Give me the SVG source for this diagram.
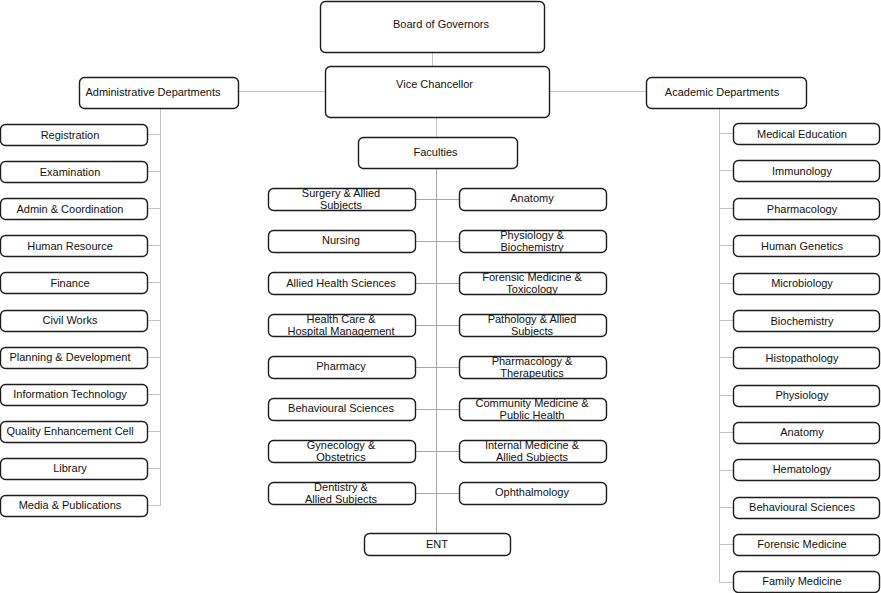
<svg xmlns="http://www.w3.org/2000/svg" width="881" height="593" viewBox="0 0 881 593">
<style>
.b{fill:#fff;stroke:#1c1c1c;stroke-width:1.4}
.t{font-family:"Liberation Sans",Arial,sans-serif;font-size:11px;fill:#111;text-anchor:middle}
.c{stroke:#c4c4c4;stroke-width:1;fill:none}
.ct{stroke:#a8a8a8;stroke-width:1;fill:none}
</style>
<rect width="881" height="593" fill="#fff"/>
<g id="connectors">
<path class="c" d="M432.5 53V66M436.5 117V137M238 91.5H325M549 91.5H646"/>
<path class="c" d="M160.5 108V506M147 134.5H160.5M147 171.5H160.5M147 208.5H160.5M147 245.5H160.5M147 282.5H160.5M147 320.5H160.5M147 357.5H160.5M147 394.5H160.5M147 431.5H160.5M147 468.5H160.5M147 505.5H160.5"/>
<path class="c" d="M719.5 108V583M719.5 133.5H733M719.5 170.5H733M719.5 208.5H733M719.5 245.5H733M719.5 283.5H733M719.5 320.5H733M719.5 357.5H733M719.5 395.5H733M719.5 432.5H733M719.5 470.5H733M719.5 507.5H733M719.5 544.5H733M719.5 582.5H733"/>
<path class="ct" d="M436.5 168V533M415 199.5H459M415 241.5H459M415 283.5H459M415 325.5H459M415 367.5H459M415 409.5H459M415 451.5H459M415 493.5H459"/>
</g>
<g id="board"><rect class="b" x="320.5" y="1.5" width="224" height="51" rx="5"/><text class="t" x="441" y="28">Board of Governors</text></g>
<g id="vc"><rect class="b" x="325.5" y="66.5" width="224" height="51" rx="5"/><text class="t" x="434.5" y="88">Vice Chancellor</text></g>
<g id="admin"><rect class="b" x="79.5" y="77.5" width="159" height="31" rx="5"/><text class="t" x="153" y="96">Administrative Departments</text></g>
<g id="academic"><rect class="b" x="646.5" y="77.5" width="160" height="31" rx="5"/><text class="t" x="722" y="96">Academic Departments</text></g>
<g id="faculties"><rect class="b" x="358.5" y="137.5" width="159" height="31" rx="5"/><text class="t" x="435.5" y="156">Faculties</text></g>

<g id="adm-registration"><rect class="b" x="0.5" y="124.5" width="147" height="21" rx="5"/><text class="t" x="70" y="139">Registration</text></g>
<g id="adm-examination"><rect class="b" x="0.5" y="161.5" width="147" height="21" rx="5"/><text class="t" x="70" y="176">Examination</text></g>
<g id="adm-admin"><rect class="b" x="0.5" y="198.5" width="147" height="21" rx="5"/><text class="t" x="70" y="213">Admin &amp; Coordination</text></g>
<g id="adm-hr"><rect class="b" x="0.5" y="235.5" width="147" height="21" rx="5"/><text class="t" x="70" y="250">Human Resource</text></g>
<g id="adm-finance"><rect class="b" x="0.5" y="272.5" width="147" height="21" rx="5"/><text class="t" x="70" y="287">Finance</text></g>
<g id="adm-civil"><rect class="b" x="0.5" y="310.5" width="147" height="21" rx="5"/><text class="t" x="70" y="324">Civil Works</text></g>
<g id="adm-planning"><rect class="b" x="0.5" y="347.5" width="147" height="21" rx="5"/><text class="t" x="70" y="361">Planning &amp; Development</text></g>
<g id="adm-it"><rect class="b" x="0.5" y="384.5" width="147" height="21" rx="5"/><text class="t" x="70" y="398">Information Technology</text></g>
<g id="adm-qec"><rect class="b" x="0.5" y="421.5" width="147" height="21" rx="5"/><text class="t" x="70" y="435">Quality Enhancement Cell</text></g>
<g id="adm-library"><rect class="b" x="0.5" y="458.5" width="147" height="21" rx="5"/><text class="t" x="70" y="472">Library</text></g>
<g id="adm-media"><rect class="b" x="0.5" y="495.5" width="147" height="21" rx="5"/><text class="t" x="70" y="509">Media &amp; Publications</text></g>

<g id="aca-meded"><rect class="b" x="733.5" y="123.5" width="146" height="21" rx="5"/><text class="t" x="802" y="138">Medical Education</text></g>
<g id="aca-immuno"><rect class="b" x="733.5" y="160.5" width="146" height="21" rx="5"/><text class="t" x="802" y="175">Immunology</text></g>
<g id="aca-pharma"><rect class="b" x="733.5" y="198.5" width="146" height="21" rx="5"/><text class="t" x="802" y="213">Pharmacology</text></g>
<g id="aca-genetics"><rect class="b" x="733.5" y="235.5" width="146" height="21" rx="5"/><text class="t" x="802" y="250">Human Genetics</text></g>
<g id="aca-micro"><rect class="b" x="733.5" y="273.5" width="146" height="21" rx="5"/><text class="t" x="802" y="287">Microbiology</text></g>
<g id="aca-biochem"><rect class="b" x="733.5" y="310.5" width="146" height="21" rx="5"/><text class="t" x="802" y="325">Biochemistry</text></g>
<g id="aca-histo"><rect class="b" x="733.5" y="347.5" width="146" height="21" rx="5"/><text class="t" x="802" y="362">Histopathology</text></g>
<g id="aca-physio"><rect class="b" x="733.5" y="385.5" width="146" height="21" rx="5"/><text class="t" x="802" y="399">Physiology</text></g>
<g id="aca-anatomy"><rect class="b" x="733.5" y="422.5" width="146" height="21" rx="5"/><text class="t" x="802" y="436">Anatomy</text></g>
<g id="aca-hema"><rect class="b" x="733.5" y="459.5" width="146" height="21" rx="5"/><text class="t" x="802" y="473">Hematology</text></g>
<g id="aca-behav"><rect class="b" x="733.5" y="497.5" width="146" height="21" rx="5"/><text class="t" x="802" y="511">Behavioural Sciences</text></g>
<g id="aca-forensic"><rect class="b" x="733.5" y="534.5" width="146" height="21" rx="5"/><text class="t" x="802" y="548">Forensic Medicine</text></g>
<g id="aca-family"><rect class="b" x="733.5" y="571.5" width="146" height="21" rx="5"/><text class="t" x="802" y="585">Family Medicine</text></g>

<g id="fac-surgery"><rect class="b" x="268.5" y="188.5" width="147" height="22" rx="5"/><text class="t" x="341" y="197">Surgery &amp; Allied</text><text class="t" x="341" y="209">Subjects</text></g>
<g id="fac-nursing"><rect class="b" x="268.5" y="230.5" width="147" height="22" rx="5"/><text class="t" x="341" y="244">Nursing</text></g>
<g id="fac-ahs"><rect class="b" x="268.5" y="272.5" width="147" height="22" rx="5"/><text class="t" x="341" y="287">Allied Health Sciences</text></g>
<g id="fac-hchm"><rect class="b" x="268.5" y="314.5" width="147" height="22" rx="5"/><text class="t" x="341" y="323">Health Care &amp;</text><text class="t" x="341" y="335">Hospital Management</text></g>
<g id="fac-pharmacy"><rect class="b" x="268.5" y="356.5" width="147" height="22" rx="5"/><text class="t" x="341" y="370">Pharmacy</text></g>
<g id="fac-behav"><rect class="b" x="268.5" y="398.5" width="147" height="22" rx="5"/><text class="t" x="341" y="412">Behavioural Sciences</text></g>
<g id="fac-gyn"><rect class="b" x="268.5" y="440.5" width="147" height="22" rx="5"/><text class="t" x="341" y="449">Gynecology &amp;</text><text class="t" x="341" y="461">Obstetrics</text></g>
<g id="fac-dent"><rect class="b" x="268.5" y="482.5" width="147" height="22" rx="5"/><text class="t" x="341" y="491">Dentistry &amp;</text><text class="t" x="341" y="503">Allied Subjects</text></g>

<g id="fac-anatomy"><rect class="b" x="459.5" y="188.5" width="147" height="22" rx="5"/><text class="t" x="532" y="202">Anatomy</text></g>
<g id="fac-physbio"><rect class="b" x="459.5" y="230.5" width="147" height="22" rx="5"/><text class="t" x="532" y="239">Physiology &amp;</text><text class="t" x="532" y="251">Biochemistry</text></g>
<g id="fac-forensic"><rect class="b" x="459.5" y="272.5" width="147" height="22" rx="5"/><text class="t" x="532" y="281">Forensic Medicine &amp;</text><text class="t" x="532" y="293">Toxicology</text></g>
<g id="fac-patho"><rect class="b" x="459.5" y="314.5" width="147" height="22" rx="5"/><text class="t" x="532" y="323">Pathology &amp; Allied</text><text class="t" x="532" y="335">Subjects</text></g>
<g id="fac-pharmther"><rect class="b" x="459.5" y="356.5" width="147" height="22" rx="5"/><text class="t" x="532" y="365">Pharmacology &amp;</text><text class="t" x="532" y="377">Therapeutics</text></g>
<g id="fac-community"><rect class="b" x="459.5" y="398.5" width="147" height="22" rx="5"/><text class="t" x="532" y="407">Community Medicine &amp;</text><text class="t" x="532" y="419">Public Health</text></g>
<g id="fac-internal"><rect class="b" x="459.5" y="440.5" width="147" height="22" rx="5"/><text class="t" x="532" y="449">Internal Medicine &amp;</text><text class="t" x="532" y="461">Allied Subjects</text></g>
<g id="fac-ophth"><rect class="b" x="459.5" y="482.5" width="147" height="22" rx="5"/><text class="t" x="532" y="496">Ophthalmology</text></g>

<g id="fac-ent"><rect class="b" x="364.5" y="533.5" width="146" height="22" rx="5"/><text class="t" x="437" y="548">ENT</text></g>
</svg>
